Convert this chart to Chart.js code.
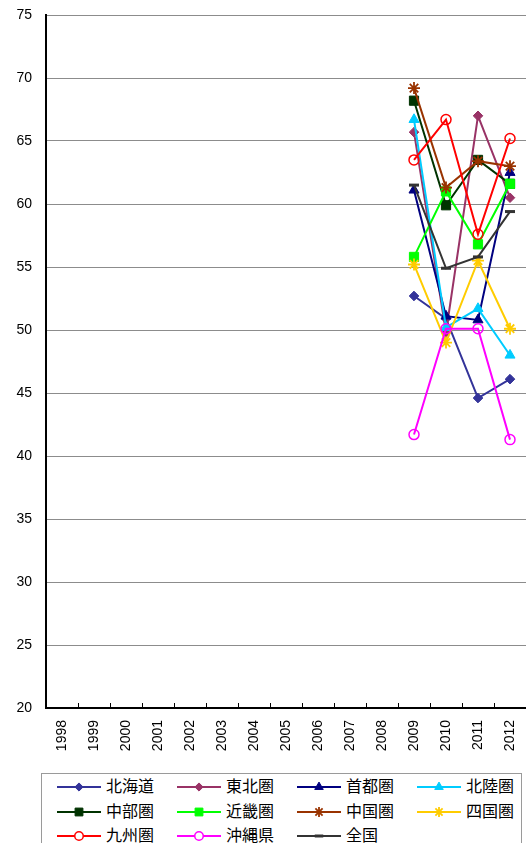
<!DOCTYPE html>
<html>
<head>
<meta charset="utf-8">
<script src="https://cdn.jsdelivr.net/npm/chart.js@4/dist/chart.umd.min.js"></script>
<style>
  html, body { margin: 0; padding: 0; background: #fff; width: 526px; height: 843px; overflow: hidden; }
  #wrap { position: absolute; left: 0; top: 0; width: 526px; height: 765px; }
  #legend { position: absolute; left: 41px; top: 773px; width: 481px; height: 90px; border: 1px solid #9a9a9a; box-sizing: border-box; }
  .item { position: absolute; height: 20px; }
  .item canvas { position: absolute; left: 0; top: 4px; }
  .item span { position: absolute; left: 49px; top: -2px; font: 16px "Noto Sans CJK JP", sans-serif; color: #000; white-space: nowrap; line-height: 22px; }
</style>
</head>
<body>
<div id="wrap"><canvas id="c"></canvas></div>
<div id="legend"></div>
<script>
const categories = ['1998','1999','2000','2001','2002','2003','2004','2005','2006','2007','2008','2009','2010','2011','2012'];
const seriesNames = ['北海道','東北圏','首都圏','北陸圏','中部圏','近畿圏','中国圏','四国圏','九州圏','沖縄県','全国'];
const pad = [null,null,null,null,null,null,null,null,null,null,null];
const hokkaido = pad.concat([52.7, 50.9, 44.6, 46.1]);
const tohoku   = pad.concat([65.7, 49.8, 67.0, 60.5]);
const shutoken = pad.concat([61.1, 51.1, 50.8, 62.5]);
const hokuriku = pad.concat([66.7, 50.2, 51.7, 48.0]);
const chubu    = pad.concat([68.2, 59.9, 63.5, 61.6]);
const kinki    = pad.concat([55.8, 61.0, 56.8, 61.6]);
const chugoku  = pad.concat([69.2, 61.3, 63.4, 63.0]);
const shikoku  = pad.concat([55.2, 49.0, 55.5, 50.1]);
const kyushu   = pad.concat([63.5, 66.7, 57.6, 65.2]);
const okinawa  = pad.concat([41.7, 50.1, 50.1, 41.3]);
const zenkoku  = pad.concat([61.5, 54.9, 55.8, 59.4]);
const yTicks = [20,25,30,35,40,45,50,55,60,65,70,75];

const values = [hokkaido, tohoku, shutoken, hokuriku, chubu, kinki, chugoku, shikoku, kyushu, okinawa, zenkoku];
const colors = ['#333399','#993366','#000080','#00CCFF','#003300','#00FF00','#993300','#FFCC00','#FF0000','#FF00FF','#333333'];
const styles = [
  {ps:'rectRot', r:4.8, fill:true, bw:1},
  {ps:'rectRot', r:4.8, fill:true, bw:1},
  {ps:'triangle', r:5.8, fill:true, bw:1},
  {ps:'triangle', r:5.8, fill:true, bw:1},
  {ps:'rect', r:6.5, fill:true, bw:1},
  {ps:'rect', r:6.5, fill:true, bw:1},
  {ps:'star', r:6, fill:false, bw:1.8},
  {ps:'star', r:6, fill:false, bw:1.8},
  {ps:'circle', r:5, fill:false, bw:1.5},
  {ps:'circle', r:5, fill:false, bw:1.5},
  {ps:'line', r:5, fill:false, bw:3}
];

const datasets = seriesNames.map((name, i) => ({
  label: name,
  data: values[i],
  borderColor: colors[i],
  backgroundColor: colors[i],
  borderWidth: 2,
  pointStyle: styles[i].ps,
  pointRadius: styles[i].r,
  pointBorderWidth: styles[i].bw,
  pointBackgroundColor: styles[i].fill ? colors[i] : 'rgba(0,0,0,0)',
  pointBorderColor: colors[i],
  spanGaps: false,
  tension: 0,
  order: seriesNames.length - i,
  clip: false
}));

const innerTicks = {
  id: 'innerTicks',
  afterDraw(chart) {
    const xs = chart.scales.x;
    const ctx = chart.ctx;
    const bottom = chart.chartArea.bottom;
    ctx.save();
    ctx.strokeStyle = '#000';
    ctx.lineWidth = 1;
    for (let i = 1; i < categories.length; i++) {
      const x = Math.round((xs.getPixelForValue(i - 1) + xs.getPixelForValue(i)) / 2) + 0.5;
      ctx.beginPath();
      ctx.moveTo(x, bottom);
      ctx.lineTo(x, bottom - 5);
      ctx.stroke();
    }
    ctx.restore();
  }
};

new Chart(document.getElementById('c'), {
  type: 'line',
  data: { labels: categories, datasets: datasets },
  plugins: [innerTicks],
  options: {
    responsive: true,
    maintainAspectRatio: false,
    animation: false,
    layout: { autoPadding: false, padding: { top: 15, right: 0, left: 0, bottom: 0 } },
    plugins: { legend: { display: false }, tooltip: { enabled: false } },
    scales: {
      x: {
        type: 'category',
        offset: true,
        grid: { display: true, drawOnChartArea: false, drawTicks: false, offset: true },
        border: { display: true, color: '#000', width: 2 },
        ticks: { minRotation: 90, maxRotation: 90, padding: 12, color: '#000', autoSkip: false,
                 font: { family: '"Liberation Sans", Arial, sans-serif', size: 14 } },
        afterFit(scale) { scale.height = 57; scale.paddingLeft = 0; scale.paddingRight = 0; }
      },
      y: {
        min: 20, max: 75,
        afterBuildTicks(scale) { scale.ticks = yTicks.map(v => ({ value: v })); },
        grid: { color: '#8c8c8c', lineWidth: 1, drawTicks: false },
        border: { display: true, color: '#000', width: 2 },
        ticks: { padding: 14, color: '#000',
                 font: { family: '"Liberation Sans", Arial, sans-serif', size: 14 } },
        afterFit(scale) { scale.width = 46; scale.paddingTop = 0; scale.paddingBottom = 0; }
      }
    }
  }
});

// HTML legend with samples drawn by Chart.js helpers
const legend = document.getElementById('legend');
seriesNames.forEach((name, i) => {
  const col = i % 4, row = Math.floor(i / 4);
  const item = document.createElement('div');
  item.className = 'item';
  item.style.left = (15 + col * 120) + 'px';
  item.style.top = (2 + row * 24.5) + 'px';
  const cv = document.createElement('canvas');
  cv.width = 46; cv.height = 14;
  item.appendChild(cv);
  const ctx = cv.getContext('2d');
  ctx.strokeStyle = colors[i];
  ctx.lineWidth = 2;
  ctx.beginPath(); ctx.moveTo(0, 7); ctx.lineTo(44, 7); ctx.stroke();
  ctx.fillStyle = styles[i].fill ? colors[i] : '#fff';
  ctx.lineWidth = styles[i].bw;
  Chart.helpers.drawPoint(ctx, { pointStyle: styles[i].ps, radius: styles[i].r * 0.85, borderWidth: styles[i].bw, rotation: 0 }, 22, 7);
  const sp = document.createElement('span');
  sp.textContent = name;
  item.appendChild(sp);
  legend.appendChild(item);
});
</script>
</body>
</html>
